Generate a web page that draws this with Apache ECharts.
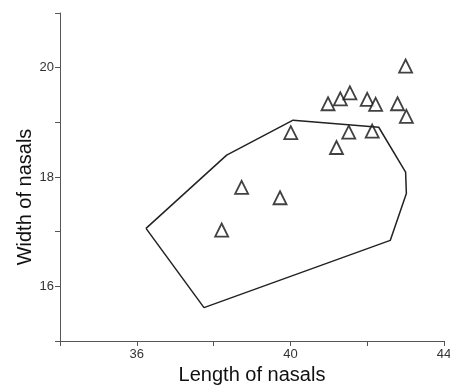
<!DOCTYPE html>
<html>
<head>
<meta charset="utf-8">
<script src="https://cdn.jsdelivr.net/npm/echarts@6/dist/echarts.min.js"></script>
<style>
  html, body { margin: 0; padding: 0; background: #fff; }
  #main { width: 450px; height: 385px; }
</style>
</head>
<body>
<div id="main"></div>
<script>
// specimens (length, width of nasals)
const lengthVals = [43.0, 40.98, 41.30, 41.55, 42.0, 42.22, 42.79, 43.02, 40.01, 41.52, 42.13, 41.2, 38.73, 39.73, 38.21]
const widthVals = [20.03, 19.34, 19.43, 19.54, 19.42, 19.33, 19.34, 19.11, 18.81, 18.82, 18.84, 18.54, 17.81, 17.62, 17.03]

// convex hull of the reference group
const hullX = [36.24, 38.34, 40.07, 42.30, 43.0, 43.02, 42.6, 37.75, 36.24]
const hullY = [17.06, 18.40, 19.04, 18.91, 18.09, 17.70, 16.84, 15.61, 17.06]

const chart = echarts.init(document.getElementById('main'))

const axisColor = '#555'
const font = 'Liberation Sans, Arial, sans-serif'

const option = {
  animation: false,
  grid: { left: 60, right: 6, top: 13, bottom: 44, outerBoundsMode: 'none' },
  xAxis: {
    type: 'value',
    min: 34,
    max: 44,
    interval: 2,
    name: 'Length of nasals',
    nameLocation: 'middle',
    nameGap: 22,
    nameTextStyle: { fontSize: 20, color: '#111', fontFamily: font },
    axisLine: { lineStyle: { color: axisColor, width: 1 } },
    axisTick: { show: true, length: 5, lineStyle: { color: axisColor } },
    axisLabel: {
      color: '#333',
      fontSize: 13,
      fontFamily: font,
      margin: 7,
      formatter: v => ((v - 36) % 4 === 0 ? String(v) : '')
    },
    splitLine: { show: false }
  },
  yAxis: {
    type: 'value',
    min: 15,
    max: 21,
    interval: 1,
    name: 'Width of nasals',
    nameLocation: 'middle',
    nameGap: 25,
    nameMoveOverlap: false,
    // title sits a little below the middle of the axis
    nameTextStyle: { fontSize: 20, color: '#111', fontFamily: font, padding: [0, 40, 0, 0] },
    axisLine: { show: true, lineStyle: { color: axisColor, width: 1 } },
    axisTick: { show: true, length: 5, lineStyle: { color: axisColor } },
    axisLabel: {
      color: '#333',
      fontSize: 13,
      fontFamily: font,
      margin: 6,
      formatter: v => (v % 2 === 0 ? String(v) : '')
    },
    splitLine: { show: false }
  },
  series: [
    {
      type: 'line',
      data: hullX.map((x, i) => [x, hullY[i]]),
      showSymbol: false,
      symbol: 'none',
      lineStyle: { color: '#222', width: 1.5 },
      silent: true
    },
    {
      type: 'scatter',
      data: lengthVals.map((x, i) => [x, widthVals[i]]),
      symbol: 'triangle',
      symbolSize: [13, 13],
      itemStyle: { color: '#fff', borderColor: '#111', borderWidth: 1.8 }
    }
  ]
}

chart.setOption(option)
</script>
</body>
</html>
